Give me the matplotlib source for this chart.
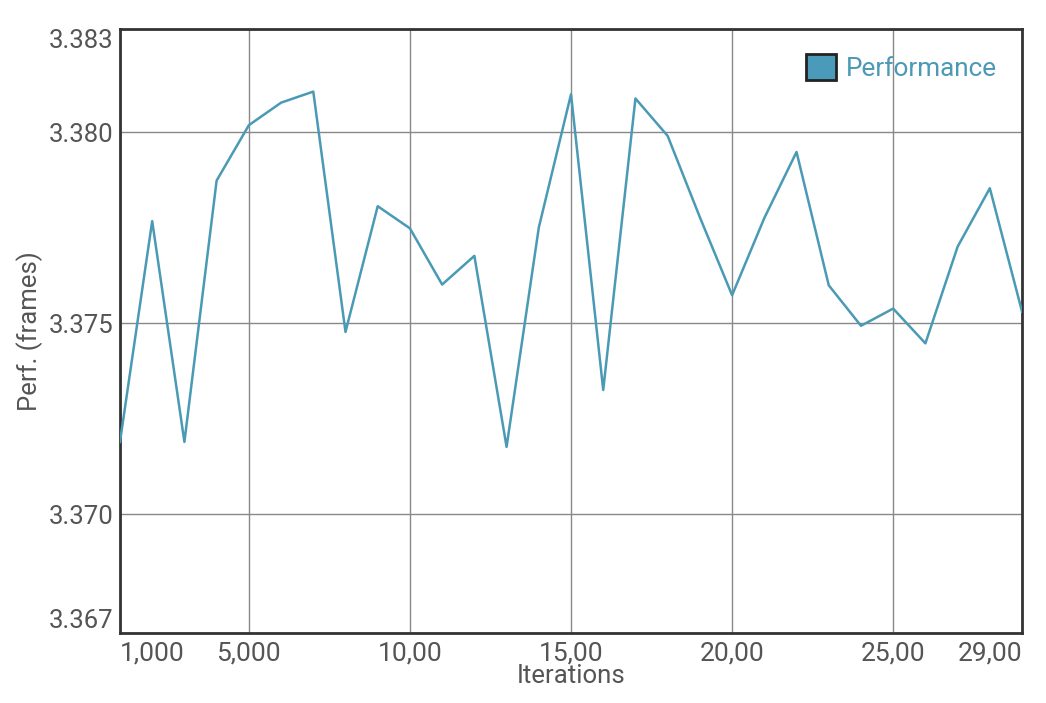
import matplotlib.pyplot as plt
from matplotlib.patches import Patch

plt.rcParams['font.family'] = ['Roboto', 'DejaVu Sans']

# data
iterations = [1000, 2000, 3000, 4000, 5000, 6000, 7000, 8000, 9000, 10000,
              11000, 12000, 13000, 14000, 15000, 16000, 17000, 18000, 19000, 20000,
              21000, 22000, 23000, 24000, 25000, 26000, 27000, 28000, 29000]
perf = [3.37189, 3.37767, 3.37189, 3.37873, 3.38018, 3.38077, 3.38106, 3.37477, 3.37806, 3.37748,
        3.37601, 3.37676, 3.37176, 3.37750, 3.38099, 3.37325, 3.38088, 3.37990, 3.37777, 3.37573,
        3.37775, 3.37948, 3.37599, 3.37493, 3.37538, 3.37447, 3.37700, 3.37853, 3.37530]
x_ticks = [1000, 5000, 10000, 15000, 20000, 25000, 29000]
x_labels = ['1,000', '5,000', '10,00', '15,00', '20,00', '25,00', '29,00']
y_min, y_max = 3.36688, 3.38269
y_ticks = [3.370, 3.375, 3.380]

line_color = '#4a9ab5'
text_color = '#555555'

fig = plt.figure(figsize=(10.46, 7.03), dpi=100)
ax = fig.add_axes([0.1147, 0.0991, 0.8624, 0.8592])

ax.plot(iterations, perf, color=line_color, lw=1.8, zorder=3)

ax.set_xlim(iterations[0], iterations[-1])
ax.set_ylim(y_min, y_max)

ax.set_xticks(x_ticks)
ax.set_xticklabels(x_labels)
xt = ax.get_xticklabels()
xt[0].set_ha('left')
xt[-1].set_ha('right')

ax.set_yticks([y_min] + y_ticks + [y_max])
ax.set_yticklabels(['%.3f' % v for v in [y_min] + y_ticks + [y_max]])
yt = ax.get_yticklabels()
yt[0].set_va('bottom')
yt[-1].set_va('top')

ax.tick_params(axis='both', length=0, labelcolor=text_color)
ax.tick_params(axis='x', pad=6, labelsize=19)
ax.tick_params(axis='y', pad=5, labelsize=18.5)

ax.grid(True, color='#888888', lw=1)
ax.set_axisbelow(True)
for s in ax.spines.values():
    s.set_color('#333333')
    s.set_linewidth(2)

ax.set_xlabel('Iterations', fontsize=18.5, color=text_color, labelpad=-1)
ax.set_ylabel('Perf. (frames)', fontsize=18.5, color=text_color, labelpad=4)

handle = Patch(facecolor='#4a9bba', edgecolor='#222222', lw=2, label='Performance')
leg = ax.legend(handles=[handle], loc='upper right', frameon=False, fontsize=18.8,
                handlelength=1.15, handleheight=1.15, handletextpad=0.4,
                borderaxespad=0.55, labelcolor=line_color)

fig.savefig('out.png', dpi=100)
